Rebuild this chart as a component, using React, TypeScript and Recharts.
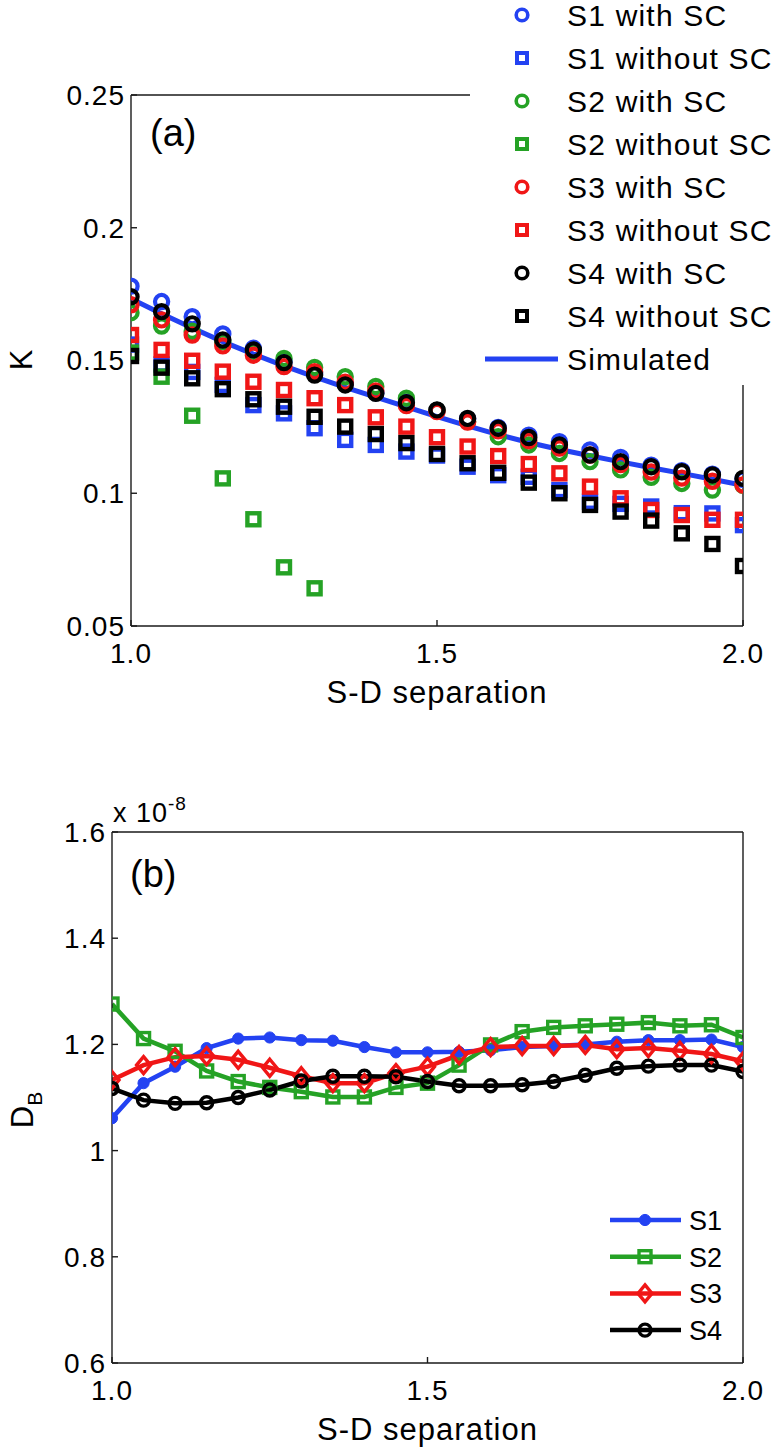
import React from 'react';
import { ComposedChart, Scatter, Line, XAxis, YAxis, Label } from 'recharts';

// S-D separation (same for both panels)
const SEPARATION = [1.0, 1.05, 1.1, 1.15, 1.2, 1.25, 1.3, 1.35, 1.4, 1.45, 1.5, 1.55, 1.6, 1.65, 1.7, 1.75, 1.8, 1.85, 1.9, 1.95, 2.0];

// panel (a): K
const K_S1_WITH = [0.178, 0.1722, 0.1665, 0.16, 0.1546, 0.1495, 0.1452, 0.1412, 0.1378, 0.1343, 0.1312, 0.128, 0.1248, 0.1219, 0.1194, 0.1163, 0.1135, 0.1106, 0.1085, 0.1072, 0.1053];
const K_S1_WITHOUT = [0.156, 0.1485, 0.1457, 0.1408, 0.1332, 0.1301, 0.1245, 0.1201, 0.1182, 0.1157, 0.1142, 0.11, 0.1068, 0.1062, 0.1012, 0.0968, 0.096, 0.095, 0.0925, 0.0924, 0.088];
const K_S2_WITH = [0.168, 0.163, 0.161, 0.157, 0.1535, 0.1508, 0.1474, 0.1439, 0.1402, 0.1358, 0.1312, 0.127, 0.1213, 0.1182, 0.115, 0.1119, 0.1088, 0.106, 0.1037, 0.1012, 0.103];
const K_S2_WITHOUT = [0.153, 0.1439, 0.1292, 0.1056, 0.0902, 0.0721, 0.0642];
const K_S3_WITH = [0.171, 0.1653, 0.1596, 0.1555, 0.152, 0.1477, 0.1458, 0.1418, 0.1385, 0.133, 0.1308, 0.1268, 0.1235, 0.1198, 0.117, 0.1144, 0.1108, 0.108, 0.1057, 0.1045, 0.1031];
const K_S3_WITHOUT = [0.1596, 0.154, 0.1499, 0.1458, 0.142, 0.1389, 0.1358, 0.1332, 0.1286, 0.1251, 0.1211, 0.1176, 0.114, 0.111, 0.1075, 0.1025, 0.0981, 0.0937, 0.0918, 0.09, 0.09];
const K_S4_WITH = [0.174, 0.1684, 0.1638, 0.1577, 0.154, 0.1492, 0.1445, 0.1408, 0.1376, 0.1341, 0.1314, 0.1282, 0.1245, 0.121, 0.1182, 0.1144, 0.1119, 0.11, 0.1081, 0.1069, 0.1056];
const K_S4_WITHOUT = [0.1517, 0.1473, 0.1433, 0.1392, 0.1354, 0.1326, 0.1288, 0.1251, 0.1223, 0.1189, 0.1148, 0.1113, 0.1077, 0.104, 0.1, 0.0956, 0.0931, 0.0897, 0.0849, 0.0809, 0.0726];
const K_SIMULATED = [0.1733, 0.1676, 0.1622, 0.1571, 0.1524, 0.148, 0.1438, 0.1399, 0.1362, 0.1325, 0.1289, 0.1254, 0.1221, 0.1191, 0.1165, 0.1141, 0.1118, 0.1096, 0.1075, 0.1053, 0.103];

// panel (b): D_B in units of 1e-8
const DB_S1 = [1.061, 1.127, 1.158, 1.193, 1.211, 1.213, 1.208, 1.207, 1.195, 1.185, 1.185, 1.186, 1.189, 1.195, 1.197, 1.2, 1.205, 1.208, 1.208, 1.209, 1.195];
const DB_S2 = [1.276, 1.211, 1.187, 1.15, 1.13, 1.119, 1.111, 1.101, 1.101, 1.119, 1.127, 1.161, 1.199, 1.224, 1.232, 1.235, 1.238, 1.241, 1.235, 1.237, 1.213];
const DB_S3 = [1.133, 1.161, 1.176, 1.178, 1.171, 1.156, 1.14, 1.127, 1.127, 1.146, 1.158, 1.18, 1.195, 1.197, 1.197, 1.199, 1.191, 1.193, 1.188, 1.182, 1.168];
const DB_S4 = [1.117, 1.095, 1.089, 1.09, 1.1, 1.114, 1.131, 1.14, 1.14, 1.139, 1.13, 1.122, 1.122, 1.124, 1.13, 1.142, 1.155, 1.159, 1.161, 1.161, 1.149];

const X_TICKS = [1.0, 1.5, 2.0];
const K_TICKS = [0.05, 0.1, 0.15, 0.2, 0.25];
const DB_TICKS = [0.6, 0.8, 1.0, 1.2, 1.4, 1.6];

const BLUE = '#2342f2';
const GREEN = '#25a225';
const RED = '#f01616';
const BLACK = '#000000';
const AXIS = '#1a1a1a';
const FONT = '"Liberation Sans", Arial, Helvetica, sans-serif';

const pts = (ys: number[]) => ys.map((y, i) => ({ x: SEPARATION[i], y }));

const openCircle = (color: string, r = 6.6, sw = 4.2) => (p: any) =>
  <circle cx={p.cx} cy={p.cy} r={r} fill="none" stroke={color} strokeWidth={sw} />;
const openSquare = (color: string, s = 12, sw = 4.4) => (p: any) =>
  <rect x={p.cx - s / 2} y={p.cy - s / 2} width={s} height={s} fill="none" stroke={color} strokeWidth={sw} />;
const dotCircle = (color: string) => (p: any) =>
  <circle key={p.index} cx={p.cx} cy={p.cy} r={5.6} fill={color} stroke={color} />;
const dotSquare = (color: string) => (p: any) =>
  <rect key={p.index} x={p.cx - 6} y={p.cy - 6} width={12} height={12} fill="none" stroke={color} strokeWidth={3.4} />;
const dotDiamond = (color: string) => (p: any) =>
  <path key={p.index} d={`M${p.cx},${p.cy - 8.5} L${p.cx + 7},${p.cy} L${p.cx},${p.cy + 8.5} L${p.cx - 7},${p.cy} Z`} fill="none" stroke={color} strokeWidth={3.4} />;
const dotRing = (color: string) => (p: any) =>
  <circle key={p.index} cx={p.cx} cy={p.cy} r={6} fill="none" stroke={color} strokeWidth={3.4} />;

const tickStyle = { fill: BLACK, fontSize: 28, fontFamily: FONT, letterSpacing: 1 };
const noTick = () => <g />;

const K_SERIES = [
  { name: 'S1 with SC', data: K_S1_WITH, color: BLUE, kind: 'circle' },
  { name: 'S1 without SC', data: K_S1_WITHOUT, color: BLUE, kind: 'square' },
  { name: 'S2 with SC', data: K_S2_WITH, color: GREEN, kind: 'circle' },
  { name: 'S2 without SC', data: K_S2_WITHOUT, color: GREEN, kind: 'square' },
  { name: 'S3 with SC', data: K_S3_WITH, color: RED, kind: 'circle' },
  { name: 'S3 without SC', data: K_S3_WITHOUT, color: RED, kind: 'square' },
  { name: 'S4 with SC', data: K_S4_WITH, color: BLACK, kind: 'circle' },
  { name: 'S4 without SC', data: K_S4_WITHOUT, color: BLACK, kind: 'square' },
];

const DB_SERIES = [
  { name: 'S1', data: DB_S1, color: BLUE, dot: dotCircle },
  { name: 'S2', data: DB_S2, color: GREEN, dot: dotSquare },
  { name: 'S3', data: DB_S3, color: RED, dot: dotDiamond },
  { name: 'S4', data: DB_S4, color: BLACK, dot: dotRing },
];

function PanelA() {
  return (
    <ComposedChart width={780} height={720} margin={{ top: 94, right: 36, bottom: 0, left: 0 }}>
      <XAxis dataKey="x" type="number" domain={[1, 2]} ticks={X_TICKS} tickFormatter={(v) => v.toFixed(1)}
        height={94} tickSize={-6} tickMargin={23} stroke={AXIS} strokeWidth={1.4} tick={tickStyle} allowDataOverflow>
        <Label value="S-D separation" position="insideBottom" offset={17}
          style={{ fill: BLACK, fontSize: 31, fontFamily: FONT, letterSpacing: 1 }} />
      </XAxis>
      <XAxis xAxisId="t" orientation="top" type="number" domain={[1, 2]} ticks={X_TICKS} height={1}
        tickSize={-6} stroke={AXIS} strokeWidth={1.4} tick={noTick} />
      <YAxis dataKey="y" type="number" domain={[0.05, 0.25]} ticks={K_TICKS} width={131}
        tickSize={-6} tickMargin={12} stroke={AXIS} strokeWidth={1.4} tick={tickStyle} allowDataOverflow />
      <YAxis yAxisId="r" orientation="right" type="number" domain={[0.05, 0.25]} ticks={K_TICKS} width={1}
        tickSize={-6} stroke={AXIS} strokeWidth={1.4} tick={noTick} />
      {K_SERIES.map((s) => (
        <Scatter key={s.name} name={s.name} data={pts(s.data)} dataKey="y" isAnimationActive={false}
          shape={s.kind === 'circle' ? openCircle(s.color) : openSquare(s.color)} />
      ))}
      <Line data={pts(K_SIMULATED)} dataKey="y" name="Simulated" stroke={BLUE} strokeWidth={5}
        dot={false} activeDot={false} isAnimationActive={false} type="linear" />
    </ComposedChart>
  );
}

function PanelB() {
  return (
    <ComposedChart width={780} height={727} margin={{ top: 111, right: 36, bottom: 0, left: 0 }}>
      <XAxis dataKey="x" type="number" domain={[1, 2]} ticks={X_TICKS} tickFormatter={(v) => v.toFixed(1)}
        height={84} tickSize={-6} tickMargin={23} stroke={AXIS} strokeWidth={1.4} tick={tickStyle} allowDataOverflow>
        <Label value="S-D separation" position="insideBottom" offset={7}
          style={{ fill: BLACK, fontSize: 31, fontFamily: FONT, letterSpacing: 1 }} />
      </XAxis>
      <XAxis xAxisId="t" orientation="top" type="number" domain={[1, 2]} ticks={X_TICKS} height={1}
        tickSize={-6} stroke={AXIS} strokeWidth={1.4} tick={noTick} />
      <YAxis dataKey="y" type="number" domain={[0.6, 1.6]} ticks={DB_TICKS} width={112}
        tickFormatter={(v) => (v === 1 ? '1' : v.toFixed(1))}
        tickSize={-6} tickMargin={12} stroke={AXIS} strokeWidth={1.4} tick={tickStyle} allowDataOverflow />
      <YAxis yAxisId="r" orientation="right" type="number" domain={[0.6, 1.6]} ticks={DB_TICKS} width={1}
        tickSize={-6} stroke={AXIS} strokeWidth={1.4} tick={noTick} />
      {DB_SERIES.map((s) => (
        <Line key={s.name} name={s.name} data={pts(s.data)} dataKey="y" stroke={s.color} strokeWidth={4.5}
          dot={s.dot(s.color)} activeDot={false} isAnimationActive={false} type="linear" />
      ))}
    </ComposedChart>
  );
}

function Overlay() {
  const txt = { fontFamily: FONT, fill: BLACK } as const;
  return (
    <svg width={780} height={1447} style={{ position: 'absolute', left: 0, top: 0, pointerEvents: 'none' }}>
      <text x={150} y={146} fontSize={38} {...txt}>(a)</text>
      <text x={130} y={887} fontSize={38} {...txt}>(b)</text>
      <text x={0} y={0} fontSize={31} textAnchor="middle" transform="translate(32,360) rotate(-90)" {...txt}>K</text>
      <text x={0} y={0} fontSize={31} textAnchor="middle" transform="translate(33,1110) rotate(-90)" {...txt}>
        D<tspan fontSize={21} dy={9}>B</tspan>
      </text>
      <text x={113} y={822} fontSize={27} letterSpacing={1} {...txt}>
        x 10<tspan fontSize={19} dy={-12}>-8</tspan>
      </text>

      {/* legend (a) */}
      <rect x={470} y={0} width={310} height={385} fill="#ffffff" />
      {K_SERIES.map((s, i) => {
        const cy = 15 + i * 43;
        const p = { cx: 522, cy };
        return (
          <g key={s.name}>
            {s.kind === 'circle' ? openCircle(s.color, 5.8, 3.6)(p) : openSquare(s.color, 10, 4)(p)}
            <text x={567} y={cy + 11} fontSize={30} letterSpacing={1.2} {...txt}>{s.name}</text>
          </g>
        );
      })}
      <line x1={485} x2={558} y1={359} y2={359} stroke={BLUE} strokeWidth={5} />
      <text x={567} y={370} fontSize={30} letterSpacing={1.2} {...txt}>Simulated</text>

      {/* legend (b) */}
      {DB_SERIES.map((s, i) => {
        const cy = 1220 + i * 36.7;
        return (
          <g key={s.name}>
            <line x1={610} x2={681} y1={cy} y2={cy} stroke={s.color} strokeWidth={4.5} />
            {s.dot(s.color)({ cx: 645, cy, index: 0 })}
            <text x={689} y={cy + 10} fontSize={27} {...txt}>{s.name}</text>
          </g>
        );
      })}
    </svg>
  );
}

export default function App() {
  return (
    <div style={{ position: 'absolute', left: 0, top: 0, width: 780, height: 1447, background: '#fff' }}>
      <div style={{ position: 'absolute', left: 0, top: 0 }}>
        <PanelA />
      </div>
      <div style={{ position: 'absolute', left: 0, top: 720 }}>
        <PanelB />
      </div>
      <Overlay />
    </div>
  );
}
